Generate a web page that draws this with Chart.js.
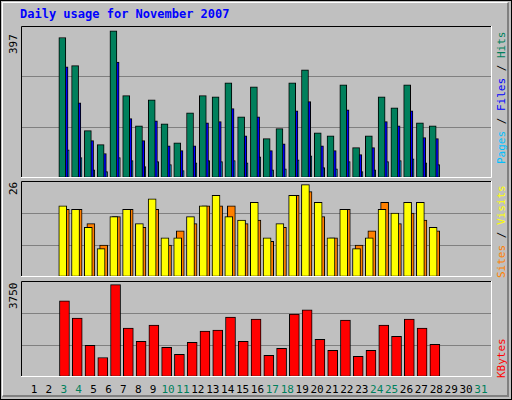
<!DOCTYPE html>
<html><head><meta charset="utf-8">
<script src="https://cdn.jsdelivr.net/npm/chart.js@4/dist/chart.umd.min.js"></script>
<style>
body{margin:0;background:#fff;}
#wrap{position:absolute;left:0;top:0;width:510px;height:398px;background:#c0c0c0;border:1px solid #000;}
#inner{position:absolute;left:1px;top:1px;width:504px;height:392px;border-top:1px solid #fff;border-left:1px solid #fff;border-right:2px solid #808080;border-bottom:2px solid #808080;}
canvas{position:absolute;}
.t{position:absolute;font-family:"DejaVu Sans Mono",monospace;white-space:nowrap;}
.rot{transform-origin:0 0;transform:rotate(-90deg);}
</style></head><body>
<div id="wrap"><div id="inner"></div></div>
<script>
const days=[1,2,3,4,5,6,7,8,9,10,11,12,13,14,15,16,17,18,19,20,21,22,23,24,25,26,27,28,29,30,31];
const weekend=[3,4,10,11,17,18,24,25,31];
const hits=[379,303,128,90,397,222,141,211,146,95,176,222,219,257,165,246,106,133,257,292,122,114,251,82,114,219,189,251,149,141];
const files=[300,203,101,66,313,160,101,154,87,74,87,149,152,187,114,165,74,92,181,206,87,74,184,63,82,152,141,181,109,106];
const pages=[76,55,22,17,55,47,31,44,36,20,41,47,44,47,41,57,22,25,49,60,28,25,44,17,22,44,47,52,41,36];
const visits=[20,19,14,8,17,19,15,22,11,11,17,20,23,17,16,21,11,15,23,26,21,11,19,8,11,19,18,21,21,14];
const sites=[19,19,15,9,17,19,14,19,9,13,15,20,20,20,15,16,10,14,23,24,17,11,19,9,13,21,15,18,16,13];
const kbytes=[3094,2396,1287,794,3750,1985,1451,2108,1205,917,1410,1862,1903,2437,1451,2355,876,1164,2560,2724,1533,1082,2314,835,1082,2108,1656,2355,1985,1328];
const maxLabels=["397","26","3750"];

const XMIN=0.13,XMAX=31.74,PX=14.9;
const wrap=document.getElementById('wrap');
function addText(txt,x,y,css){const d=document.createElement('div');d.className='t';d.innerHTML=txt;d.style.left=x+'px';d.style.top=y+'px';Object.assign(d.style,css||{});wrap.appendChild(d);return d;}
const borderPlugin={id:'bd',afterDraw(c){const a=c.chartArea,x=c.ctx;x.save();x.lineWidth=1;
 x.strokeStyle='#000';x.beginPath();x.moveTo(a.left+0.5,a.bottom);x.lineTo(a.left+0.5,a.top+0.5);x.lineTo(a.right,a.top+0.5);x.stroke();
 x.strokeStyle='#fff';x.beginPath();x.moveTo(a.left,a.bottom-0.5);x.lineTo(a.right-0.5,a.bottom-0.5);x.lineTo(a.right-0.5,a.top);x.stroke();x.restore();}};
function panel(top,h,max,step,sets){
 const cv=document.createElement('canvas');cv.width=471;cv.height=h;cv.style.left='20px';cv.style.top=top+'px';cv.style.width='471px';cv.style.height=h+'px';wrap.appendChild(cv);
 new Chart(cv,{type:'bar',data:{datasets:sets.map(s=>({data:s.v.map((v,i)=>({x:days[i]+s.off/PX,y:v})),backgroundColor:s.c,borderColor:'#000',borderWidth:1,borderSkipped:false,barThickness:s.w,grouped:false}))},
 options:{responsive:false,animation:false,devicePixelRatio:1,layout:{padding:0},plugins:{legend:{display:false},tooltip:{enabled:false}},
  scales:{x:{type:'linear',min:XMIN,max:XMAX,display:false},
   y:{min:0,max:max,ticks:{display:false,stepSize:step},border:{display:false},grid:{drawTicks:false,color:c=>(c.tick.value>0&&c.tick.value<max)?'#808080':'rgba(0,0,0,0)'}}}},
 plugins:[borderPlugin]});
}
panel(25,152,410,136.67,[{v:hits,c:'#00805c',off:-4,w:7},{v:files,c:'#0000ff',off:-2,w:8},{v:pages,c:'#00c0ff',off:0,w:7}]);
panel(180,96,27,9,[{v:visits,c:'#ffff00',off:-3.5,w:8},{v:sites,c:'#ff8000',off:-0.5,w:8}]);
panel(280,96,3900,1300,[{v:kbytes,c:'#ff0000',off:-1.5,w:10}]);

addText('Daily usage for November 2007',19,6,{color:'#0000ff',fontWeight:'bold',fontSize:'12px'});
addText(maxLabels[0],6,53,{fontSize:'11px',color:'#000'}).classList.add('rot');
addText(maxLabels[1],6,194,{fontSize:'11px',color:'#000'}).classList.add('rot');
addText(maxLabels[2],6,308,{fontSize:'11px',color:'#000'}).classList.add('rot');
addText('<span style="color:#00c0ff">Pages</span><span style="color:#000"> / </span><span style="color:#0000ff">Files</span><span style="color:#000"> / </span><span style="color:#00805c">Hits</span>',494,163,{fontSize:'11px'}).classList.add('rot');
addText('<span style="color:#ff8000">Sites</span><span style="color:#000"> / </span><span style="color:#ffff00">Visits</span>',494,277,{fontSize:'11px'}).classList.add('rot');
addText('<span style="color:#ff0000">KBytes</span>',494,377,{fontSize:'11px'}).classList.add('rot');
days.forEach(d=>{const x=20+(d-XMIN)*PX;addText(String(d),x-10,382,{width:'20px',textAlign:'center',fontSize:'11px',color:weekend.includes(d)?'#00805c':'#000'});});
</script></body></html>
